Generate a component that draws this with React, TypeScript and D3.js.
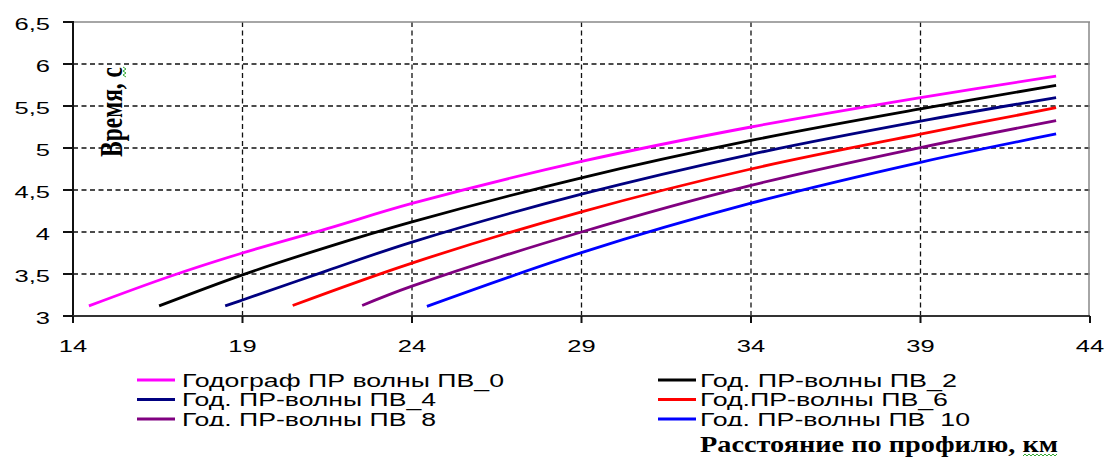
import React from "react";
import * as d3 from "d3";

const xTicks = [14, 19, 24, 29, 34, 39, 44];
const yTicks = [3, 3.5, 4, 4.5, 5, 5.5, 6, 6.5];

const seriesNames = [
  "Годограф ПР волны ПВ_0",
  "Год. ПР-волны ПВ_2",
  "Год. ПР-волны ПВ_4",
  "Год.ПР-волны ПВ_6",
  "Год. ПР-волны ПВ_8",
  "Год. ПР-волны ПВ_10",
];
const seriesColors = ["#FF00FF", "#000000", "#000080", "#FF0000", "#800080", "#0000FF"];

const pv0X = [14.47, 16.85, 19, 21.5, 24, 29, 34, 39, 43];
const pv0T = [3.12, 3.47, 3.75, 4.04, 4.34, 4.84, 5.25, 5.6, 5.855];
const pv2X = [16.54, 19, 21.5, 24, 29, 34, 39, 43];
const pv2T = [3.12, 3.49, 3.82, 4.12, 4.645, 5.09, 5.466, 5.745];
const pv4X = [18.49, 19, 21.5, 24, 29, 34, 39, 43];
const pv4T = [3.12, 3.19, 3.54, 3.88, 4.45, 4.925, 5.32, 5.6];
const pv6X = [20.48, 24, 29, 34, 39, 43];
const pv6T = [3.125, 3.63, 4.24, 4.75, 5.165, 5.48];
const pv8X = [22.53, 24, 29, 34, 39, 43];
const pv8T = [3.125, 3.355, 4.0, 4.555, 5.005, 5.326];
const pv10X = [24.44, 29, 34, 39, 43];
const pv10T = [3.115, 3.755, 4.343, 4.83, 5.167];

const seriesX = [pv0X, pv2X, pv4X, pv6X, pv8X, pv10X];
const seriesT = [pv0T, pv2T, pv4T, pv6T, pv8T, pv10T];

const yTitle = "Время, с";
const xTitle = "Расстояние по профилю, км";

export default function App() {
  const W = 1105, H = 457;
  const x = d3.scaleLinear().domain([14, 44]).range([73, 1090]);
  const y = d3.scaleLinear().domain([3, 6.5]).range([316, 22]);
  const line = d3
    .line<[number, number]>()
    .x((d) => x(d[0]))
    .y((d) => y(d[1]))
    .curve(d3.curveCatmullRom.alpha(0.5));

  const fmt = (v: number) => String(v).replace(".", ",");
  const sans = "'Liberation Sans', Arial, sans-serif";
  const serif = "'Liberation Serif', 'Times New Roman', serif";

  const legendCols = [
    { lx: 137, tx: 182 },
    { lx: 658, tx: 700 },
  ];
  const legendRowsY = [380, 399.5, 419];
  const legendWidths = [322, 257, 254, 248, 254, 270];

  return (
    <div style={{ position: "absolute", left: 0, top: 0 }}>
      <svg width={W} height={H} style={{ display: "block", background: "#fff" }}>
        <defs>
          <clipPath id="legclip">
            <rect x={0} y={0} width={W} height={426.3} />
          </clipPath>
        </defs>
        {/* gridlines */}
        {yTicks
          .filter((t) => t > 3 && t < 6.5)
          .map((t) => (
            <line key={"gy" + t} x1={x(14)} x2={x(44)} y1={y(t)} y2={y(t)}
              stroke="#111" strokeWidth={1.3} strokeDasharray="5,3.5" />
          ))}
        {xTicks
          .filter((t) => t > 14 && t < 44)
          .map((t) => (
            <line key={"gx" + t} x1={x(t)} x2={x(t)} y1={y(6.5)} y2={y(3)}
              stroke="#111" strokeWidth={1.3} strokeDasharray="5,3.5" />
          ))}
        {/* frame */}
        <line x1={x(14)} x2={x(44)} y1={y(6.5)} y2={y(6.5)} stroke="#888" strokeWidth={1.5} />
        <line x1={x(44) - 1} x2={x(44) - 1} y1={y(6.5)} y2={y(3)} stroke="#888" strokeWidth={1.5} />
        {/* series */}
        {seriesX.map((xs, i) => (
          <path key={"s" + i}
            d={line(xs.map((v, j) => [v, seriesT[i][j]] as [number, number])) || ""}
            fill="none" stroke={seriesColors[i]} strokeWidth={2.8} />
        ))}
        {/* axes */}
        <line x1={x(14)} x2={x(14)} y1={y(6.5) - 1} y2={y(3) + 1} stroke="#111" strokeWidth={2} />
        <line x1={x(14)} x2={x(44)} y1={y(3)} y2={y(3)} stroke="#333" strokeWidth={2} />
        {yTicks.map((t) => (
          <g key={"yt" + t}>
            <line x1={63} x2={x(14)} y1={y(t)} y2={y(t)} stroke="#111" strokeWidth={2} />
            <text transform={`translate(50,${y(t) + 7.5}) scale(1.5,1)`} textAnchor="end"
              fontFamily={sans} fontSize={17} fill="#000">{fmt(t)}</text>
          </g>
        ))}
        {xTicks.map((t) => (
          <g key={"xt" + t}>
            <line x1={x(t)} x2={x(t)} y1={y(3)} y2={y(3) + 7} stroke="#111" strokeWidth={2} />
            <text transform={`translate(${x(t)},351.5) scale(1.5,1)`} textAnchor="middle"
              fontFamily={sans} fontSize={17} fill="#000">{fmt(t)}</text>
          </g>
        ))}
        {/* y title */}
        <text transform="translate(121.5,112) scale(1.4,1) rotate(-90)" textAnchor="middle"
          fontFamily={serif} fontWeight="bold" fontSize={22} textLength={90}
          lengthAdjust="spacingAndGlyphs" fill="#000">{yTitle}</text>
        <path d="M123,67 l3,2 l-3,2 l3,2 l-3,2 l3,2" fill="none" stroke="#3a3" strokeWidth={1} />
        {/* x title */}
        <text x={700} y={451.5} fontFamily={serif} fontWeight="bold" fontSize={24}
          textLength={358} lengthAdjust="spacingAndGlyphs" fill="#000">{xTitle}</text>
        <path d="M1023,456 l2,-2 l2,2 l2,-2 l2,2 l2,-2 l2,2 l2,-2 l2,2 l2,-2 l2,2 l2,-2 l2,2 l2,-2 l2,2 l2,-2 l2,2 l2,-2"
          fill="none" stroke="#3a3" strokeWidth={1} />
        {/* legend */}
        <g clipPath="url(#legclip)">
          {seriesNames.map((name, i) => {
            const col = legendCols[i % 2];
            const ry = legendRowsY[Math.floor(i / 2)];
            return (
              <g key={"lg" + i}>
                <line x1={col.lx} x2={col.lx + 38} y1={ry} y2={ry} stroke={seriesColors[i]} strokeWidth={3} />
                <text x={col.tx} y={ry + 6.5} fontFamily={sans} fontSize={17.5} fill="#000"
                  textLength={legendWidths[i]} lengthAdjust="spacingAndGlyphs">{name}</text>
              </g>
            );
          })}
        </g>
      </svg>
    </div>
  );
}
